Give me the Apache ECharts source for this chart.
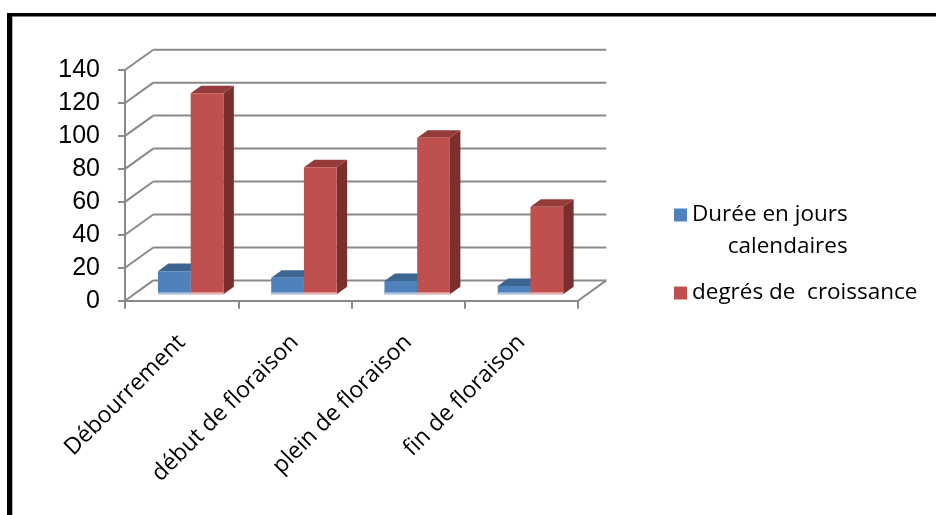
<!DOCTYPE html>
<html><head><meta charset="utf-8">
<script src="https://cdn.jsdelivr.net/npm/echarts@6/dist/echarts.min.js"></script>
<style>html,body{margin:0;padding:0;background:#fff}#c{width:936px;height:515px}</style>
</head><body><div id="c"></div>
<script>
const categories = ['Débourrement', 'début de floraison', 'plein de floraison', 'fin de floraison'];
const seriesNames = ['Durée en jours calendaires', 'degrés de  croissance'];
const dureeJours = [14, 10, 8, 5];
const degresCroissance = [122, 77, 95, 53];
const yTicks = [0, 20, 40, 60, 80, 100, 120, 140];

// 3D look parameters
const DX = 28.3, DY = -20.3;     // full depth offset of the back wall
const D0 = 0.32, D1 = 0.69;      // bar depth range (fraction of full depth)
const BAR_FRAC = 0.289;          // bar width relative to category band
const GRID_COLOR = '#898989';
const TEXT_FONT = 'Open Sans';

const palettes = [
  {front: '#4F81BD', top: '#3C6592', side: '#335683', strip: '#A9C1DF'},
  {front: '#C0504D', top: '#953C3A', side: '#792F2D', strip: '#E3B1B0'}
];

function barRender(sIdx) {
  const p = palettes[sIdx];
  return function (params, api) {
    const cat = api.value(0), val = api.value(1);
    const base = api.coord([cat, 0]);
    const topPt = api.coord([cat, val]);
    const bandW = api.size([1, 0])[0];
    const bw = bandW * BAR_FRAC;
    const x0 = base[0] + DX * D0 + (sIdx === 0 ? -bw : 0);
    const by = base[1] + DY * D0;
    const h = base[1] - topPt[1];
    const ty = by - h;
    const ddx = DX * (D1 - D0), ddy = DY * (D1 - D0);
    return {
      type: 'group',
      children: [
        {type: 'polygon', shape: {points: [[x0 + bw, ty], [x0 + bw + ddx, ty + ddy], [x0 + bw + ddx, by + ddy], [x0 + bw, by]]},
          style: {fill: p.side}},
        {type: 'polygon', shape: {points: [[x0, ty], [x0 + bw, ty], [x0 + bw + ddx, ty + ddy], [x0 + ddx, ty + ddy]]},
          style: {fill: p.top}},
        {type: 'rect', shape: {x: x0, y: ty, width: bw, height: h}, style: {fill: p.front}},
        {type: 'rect', shape: {x: x0, y: by - 2, width: bw, height: 2}, style: {fill: p.strip}}
      ]
    };
  };
}

function wallRender(params, api) {
  const cs = params.coordSys;
  const v = api.value(1);
  const y = api.coord([0, v])[1];
  const xl = cs.x, xr = cs.x + cs.width;
  const ls = {stroke: GRID_COLOR, lineWidth: 2};
  const children = [
    {type: 'line', shape: {x1: xl, y1: y, x2: xl + DX, y2: y + DY}, style: ls},
    {type: 'line', shape: {x1: xl + DX, y1: y + DY, x2: xr + DX, y2: y + DY}, style: ls}
  ];
  if (v === 0) {
    children.push({type: 'line', shape: {x1: xr, y1: y, x2: xr + DX, y2: y + DY}, style: ls});
  }
  return {type: 'group', children: children};
}

const chart = echarts.init(document.getElementById('c'), null, {renderer: 'canvas'});
chart.setOption({
  backgroundColor: '#ffffff',
  animation: false,
  graphic: [
    {type: 'rect', shape: {x: 7, y: 13, width: 929, height: 3.5}, style: {fill: '#000'}, z: 100},
    {type: 'rect', shape: {x: 7, y: 13, width: 5.3, height: 502}, style: {fill: '#000'}, z: 100}
  ],
  grid: {left: 125, right: 358, top: 70, bottom: 214.3, containLabel: false},
  xAxis: {
    type: 'category',
    data: categories,
    boundaryGap: true,
    axisLine: {show: true, lineStyle: {color: GRID_COLOR, width: 2}},
    axisTick: {show: true, length: 8, lineStyle: {color: GRID_COLOR, width: 2}},
    axisLabel: {
      rotate: 45, margin: 38, interval: 0,
      fontFamily: TEXT_FONT, fontSize: 23, color: '#000'
    },
    splitLine: {show: false}
  },
  yAxis: {
    type: 'value', min: 0, max: 140, interval: 20,
    axisLine: {show: true, lineStyle: {color: GRID_COLOR, width: 2}},
    axisTick: {show: true, length: 7, lineStyle: {color: GRID_COLOR, width: 2}},
    axisLabel: {margin: 25, fontFamily: 'Liberation Sans', fontSize: 25, color: '#000', padding: [4, 0, 0, 0]},
    splitLine: {show: false}
  },
  legend: {
    orient: 'vertical',
    left: 669, top: 162,
    itemWidth: 13, itemHeight: 13, itemGap: 14,
    icon: 'rect',
    formatter: function (name) {
      return name === seriesNames[0] ? 'Durée en jours\n{r|calendaires}' : name;
    },
    textStyle: {
      fontFamily: TEXT_FONT, fontSize: 22.5, color: '#000', lineHeight: 32,
      rich: {r: {align: 'right', fontFamily: TEXT_FONT, fontSize: 22.5, color: '#000', lineHeight: 32}}
    },
    data: [
      {name: seriesNames[0], textStyle: {padding: [32, 0, 0, 0]}},
      {name: seriesNames[1]}
    ]
  },
  series: [
    {
      name: 'walls', type: 'custom', renderItem: wallRender, z: 1, silent: true,
      data: yTicks.map(function (v) { return [0, v]; }),
      encode: {x: 0, y: 1}
    },
    {
      name: seriesNames[0], type: 'custom', renderItem: barRender(0), z: 2,
      itemStyle: {color: palettes[0].front},
      data: dureeJours.map(function (v, i) { return [i, v]; }),
      encode: {x: 0, y: 1}
    },
    {
      name: seriesNames[1], type: 'custom', renderItem: barRender(1), z: 3,
      itemStyle: {color: palettes[1].front},
      data: degresCroissance.map(function (v, i) { return [i, v]; }),
      encode: {x: 0, y: 1}
    }
  ]
});
</script></body></html>
